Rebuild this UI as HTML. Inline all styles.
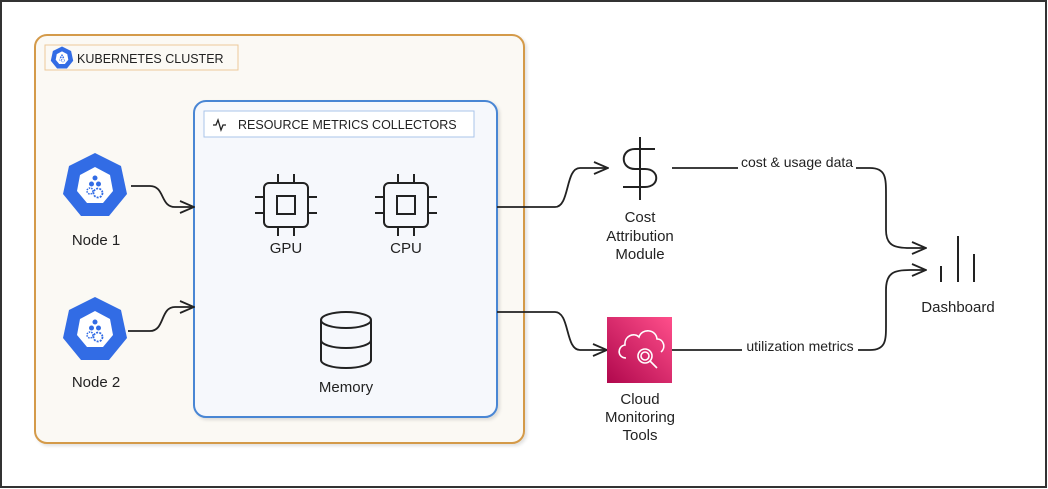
<!DOCTYPE html>
<html><head><meta charset="utf-8"><style>
html,body{margin:0;padding:0;background:#fff}
svg{display:block}
text{font-family:"Liberation Sans",sans-serif;fill:#222}
</style></head><body>
<svg width="1048" height="489" viewBox="0 0 1048 489" xmlns="http://www.w3.org/2000/svg">
<rect x="1" y="1" width="1045" height="486" fill="#fff" stroke="#333" stroke-width="2"/>
<defs>
<filter id="sh" x="-5%" y="-5%" width="110%" height="110%"><feDropShadow dx="2" dy="2" stdDeviation="1.5" flood-color="#000" flood-opacity="0.12"/></filter>
<g id="k8s">
<polygon points="0,-33 26,-20 32,8 14,30 -14,30 -32,8 -26,-20" fill="#326ce5"/>
<polygon points="0,-19 15,-11 18,5 8,17 -8,17 -18,5 -15,-11" fill="#fff"/>
<circle cx="0" cy="-8" r="2.5" fill="#326ce5"/>
<circle cx="-3.5" cy="-2" r="2.5" fill="#326ce5"/>
<circle cx="3.5" cy="-2" r="2.5" fill="#326ce5"/>
<circle cx="-5" cy="5" r="3" fill="none" stroke="#326ce5" stroke-width="1.5" stroke-dasharray="1.5 1"/>
<circle cx="3" cy="7" r="4.5" fill="none" stroke="#326ce5" stroke-width="1.8" stroke-dasharray="2 1.2"/>
</g>
<g id="chip" fill="none" stroke="#222" stroke-width="2">
<rect x="-22" y="-22" width="44" height="44" rx="5"/>
<rect x="-9" y="-9" width="18" height="18"/>
<path d="M-8,-22v-9M8,-22v-9M-8,22v9M8,22v9M-22,-8h-9M-22,8h-9M22,-8h9M22,8h9"/>
</g>
<marker id="ar" viewBox="0 0 16 16" refX="15" refY="8" markerWidth="16" markerHeight="16" markerUnits="userSpaceOnUse" orient="auto"><path d="M1,2 L15,8 L1,14" fill="none" stroke="#222" stroke-width="1.8"/></marker>
</defs>

<rect x="35" y="35" width="489" height="408" rx="12" fill="#fbf9f4" stroke="#d49a4a" stroke-width="2" filter="url(#sh)"/>
<rect x="45" y="45" width="193" height="25" fill="#fbf9f4" stroke="#ecc99a" stroke-width="1"/>
<g transform="translate(62,58) scale(0.35)"><use href="#k8s"/></g>
<text x="77" y="63" font-size="12.5" fill="#333">KUBERNETES CLUSTER</text>

<rect x="194" y="101" width="303" height="316" rx="12" fill="#f6f8fc" stroke="#4a86d4" stroke-width="2" filter="url(#sh)"/>
<rect x="204" y="111" width="270" height="26" fill="#fff" stroke="#a9c4ea" stroke-width="1"/>
<path d="M213,125 h3 l2,-5 l3,10 l2,-5 h3" fill="none" stroke="#222" stroke-width="1.3"/>
<text x="238" y="129" font-size="12.5" fill="#333">RESOURCE METRICS COLLECTORS</text>

<g transform="translate(286,205)"><use href="#chip"/></g>
<text x="286" y="253" font-size="15" text-anchor="middle">GPU</text>
<g transform="translate(406,205)"><use href="#chip"/></g>
<text x="406" y="253" font-size="15" text-anchor="middle">CPU</text>

<g fill="none" stroke="#222" stroke-width="2">
<ellipse cx="346" cy="320" rx="25" ry="8"/>
<path d="M321,320 V360 A25,8 0 0 0 371,360 V320 M321,340 A25,8 0 0 0 371,340"/>
</g>
<text x="346" y="392" font-size="15" text-anchor="middle">Memory</text>

<g transform="translate(95,186)"><use href="#k8s"/></g>
<text x="96" y="245" font-size="15" text-anchor="middle">Node 1</text>
<g transform="translate(95,330)"><use href="#k8s"/></g>
<text x="96" y="387" font-size="15" text-anchor="middle">Node 2</text>

<g fill="none" stroke="#222" stroke-width="1.8">
<path d="M131,186 H150 C165,186 160,207 175,207 H194" marker-end="url(#ar)"/>
<path d="M128,331 H150 C165,331 160,307 175,307 H194" marker-end="url(#ar)"/>
<path d="M497,207 H555 C570,207 565,168 580,168 H608" marker-end="url(#ar)"/>
<path d="M497,312 H555 C570,312 565,350 580,350 H607" marker-end="url(#ar)"/>
<path d="M672,168 H870 C886,168 886,178 886,195 V230 C886,246 895,248 910,248 H926" marker-end="url(#ar)"/>
<path d="M672,350 H870 C886,350 886,340 886,325 V290 C886,272 895,270 910,270 H926" marker-end="url(#ar)"/>
</g>
<rect x="738" y="155" width="118" height="16" fill="#fff"/>
<text x="797" y="167" font-size="14" text-anchor="middle">cost &amp; usage data</text>
<rect x="742" y="338" width="116" height="16" fill="#fff"/>
<text x="800" y="351" font-size="14" text-anchor="middle">utilization metrics</text>

<g fill="none" stroke="#222" stroke-width="2">
<path d="M640,137 V200"/>
<path d="M655,149 H635 C620,149 620,169 635,169 H645 C660,169 660,187 645,187 H623"/>
</g>
<text x="640" y="222" font-size="15" text-anchor="middle">Cost</text>
<text x="640" y="241" font-size="15" text-anchor="middle">Attribution</text>
<text x="640" y="259" font-size="15" text-anchor="middle">Module</text>

<defs><linearGradient id="pg" x1="0" y1="1" x2="1" y2="0"><stop offset="0" stop-color="#b0084d"/><stop offset="1" stop-color="#ff4f8b"/></linearGradient></defs>
<rect x="607" y="317" width="65" height="66" fill="url(#pg)"/>
<g fill="none" stroke="#fff" stroke-width="1.6">
<path d="M626,358 C617,358 617,346 625,345 C624,336 634,332 639,337 C642,328 656,329 657,339 C664,339 666,348 661,352"/>
<circle cx="645" cy="356" r="7"/><circle cx="645" cy="356" r="4"/>
<path d="M650,361 L657,368"/>
</g>
<text x="640" y="404" font-size="15" text-anchor="middle">Cloud</text>
<text x="640" y="422" font-size="15" text-anchor="middle">Monitoring</text>
<text x="640" y="440" font-size="15" text-anchor="middle">Tools</text>

<g stroke="#222" stroke-width="2"><path d="M941,266V282M958,236V282M974,254V282"/></g>
<text x="958" y="312" font-size="15" text-anchor="middle">Dashboard</text>
</svg>
</body></html>
